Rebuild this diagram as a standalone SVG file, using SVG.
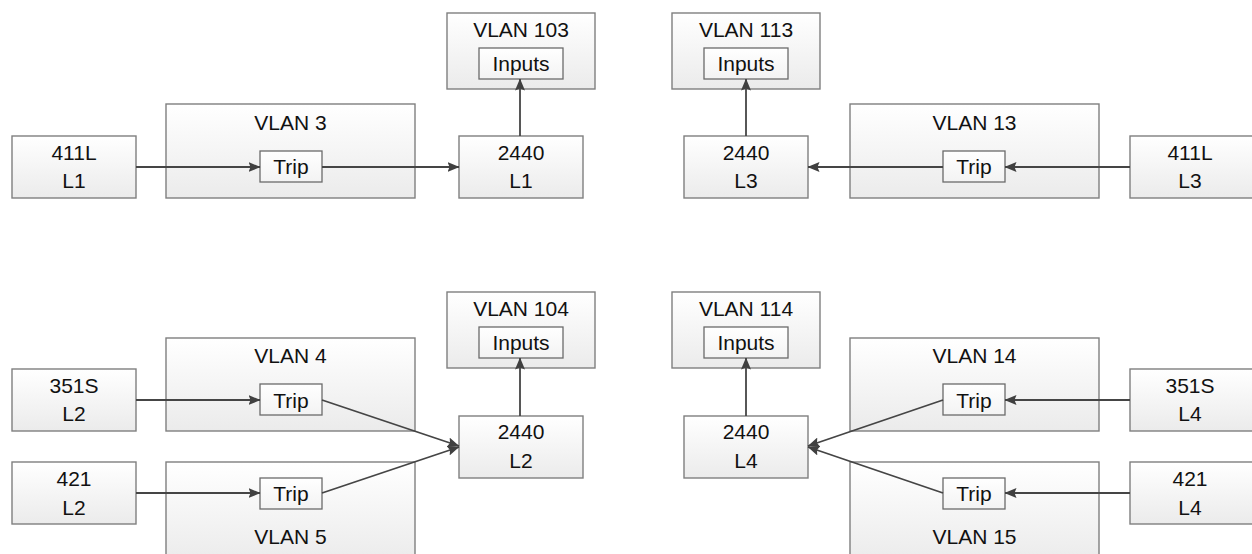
<svg xmlns="http://www.w3.org/2000/svg" width="1252" height="554" viewBox="0 0 1252 554">
<defs>
<linearGradient id="g" x1="0" y1="0" x2="0" y2="1">
<stop offset="0" stop-color="#ffffff"/>
<stop offset="1" stop-color="#ebebeb"/>
</linearGradient>
<linearGradient id="gi" x1="0" y1="0" x2="0" y2="1">
<stop offset="0" stop-color="#ffffff"/>
<stop offset="1" stop-color="#f3f3f3"/>
</linearGradient>
<marker id="ah" viewBox="0 0 12 10" refX="11.5" refY="5" markerWidth="12" markerHeight="10" markerUnits="userSpaceOnUse" orient="auto">
<path d="M0,0 L12,5 L0,10 L2,5 Z" fill="#404040"/>
</marker>
</defs>
<style>
.b{fill:url(#g);stroke:#7f7f7f;stroke-width:1.4}
.s{fill:url(#gi);stroke:#6a6a6a;stroke-width:1.3}
text{font-family:"Liberation Sans",Arial,sans-serif;font-size:21px;fill:#111111;text-anchor:middle}
.c{stroke:#454545;stroke-width:1.8;fill:none;marker-end:url(#ah)}
</style>
<rect width="1252" height="554" fill="#ffffff"/>

<!-- Top-left -->
<g id="n411L-L1"><rect class="b" x="12" y="136" width="124" height="62"/><text x="74" y="159.5">411L</text><text x="74" y="188">L1</text></g>
<g id="vlan3"><rect class="b" x="166" y="104" width="249" height="94"/><text x="290.5" y="129.5">VLAN 3</text></g>
<g id="trip3"><rect class="s" x="260" y="151" width="62" height="31"/><text x="291" y="174">Trip</text></g>
<g id="n2440-L1"><rect class="b" x="459" y="136" width="124" height="62"/><text x="521" y="159.5">2440</text><text x="521" y="188">L1</text></g>
<g id="vlan103"><rect class="b" x="447" y="13" width="148" height="76"/><text x="521" y="36.5">VLAN 103</text></g>
<g id="inputs103"><rect class="s" x="479" y="48" width="84" height="31"/><text x="521" y="70.5">Inputs</text></g>

<!-- Top-right -->
<g id="vlan113"><rect class="b" x="672" y="13" width="148" height="76"/><text x="746" y="36.5">VLAN 113</text></g>
<g id="inputs113"><rect class="s" x="704" y="48" width="84" height="31"/><text x="746" y="70.5">Inputs</text></g>
<g id="n2440-L3"><rect class="b" x="684" y="136" width="124" height="62"/><text x="746" y="159.5">2440</text><text x="746" y="188">L3</text></g>
<g id="vlan13"><rect class="b" x="850" y="104" width="249" height="94"/><text x="974.5" y="129.5">VLAN 13</text></g>
<g id="trip13"><rect class="s" x="943" y="151" width="62" height="31"/><text x="974" y="174">Trip</text></g>
<g id="n411L-L3"><rect class="b" x="1130" y="136" width="124" height="62"/><text x="1190" y="159.5">411L</text><text x="1190" y="188">L3</text></g>

<!-- Bottom-left -->
<g id="n351S-L2"><rect class="b" x="12" y="369" width="124" height="62"/><text x="74" y="393">351S</text><text x="74" y="421">L2</text></g>
<g id="vlan4"><rect class="b" x="166" y="338" width="249" height="93"/><text x="290.5" y="362.5">VLAN 4</text></g>
<g id="trip4"><rect class="s" x="260" y="384" width="62" height="31"/><text x="291" y="407.5">Trip</text></g>
<g id="n421-L2"><rect class="b" x="12" y="462" width="124" height="62"/><text x="74" y="486">421</text><text x="74" y="514.5">L2</text></g>
<g id="vlan5"><rect class="b" x="166" y="462" width="249" height="100"/><text x="290.5" y="543.5">VLAN 5</text></g>
<g id="trip5"><rect class="s" x="260" y="478" width="62" height="31"/><text x="291" y="501">Trip</text></g>
<g id="vlan104"><rect class="b" x="447" y="292" width="148" height="76"/><text x="521" y="315.5">VLAN 104</text></g>
<g id="inputs104"><rect class="s" x="479" y="327" width="84" height="31"/><text x="521" y="350">Inputs</text></g>
<g id="n2440-L2"><rect class="b" x="459" y="416" width="124" height="62"/><text x="521" y="439">2440</text><text x="521" y="467.5">L2</text></g>

<!-- Bottom-right -->
<g id="vlan114"><rect class="b" x="672" y="292" width="148" height="76"/><text x="746" y="315.5">VLAN 114</text></g>
<g id="inputs114"><rect class="s" x="704" y="327" width="84" height="31"/><text x="746" y="350">Inputs</text></g>
<g id="n2440-L4"><rect class="b" x="684" y="416" width="124" height="62"/><text x="746" y="439">2440</text><text x="746" y="467.5">L4</text></g>
<g id="vlan14"><rect class="b" x="850" y="338" width="249" height="93"/><text x="974.5" y="362.5">VLAN 14</text></g>
<g id="trip14"><rect class="s" x="943" y="384" width="62" height="31"/><text x="974" y="407.5">Trip</text></g>
<g id="vlan15"><rect class="b" x="850" y="462" width="249" height="100"/><text x="974.5" y="543.5">VLAN 15</text></g>
<g id="trip15"><rect class="s" x="943" y="478" width="62" height="31"/><text x="974" y="501">Trip</text></g>
<g id="n351S-L4"><rect class="b" x="1130" y="369" width="124" height="62"/><text x="1190" y="393">351S</text><text x="1190" y="421">L4</text></g>
<g id="n421-L4"><rect class="b" x="1130" y="462" width="124" height="62"/><text x="1190" y="486">421</text><text x="1190" y="514.5">L4</text></g>

<g id="connectors">
<line class="c" x1="136" y1="167" x2="260" y2="167"/>
<line class="c" x1="322" y1="167" x2="459" y2="167"/>
<line class="c" x1="520" y1="136" x2="520" y2="79"/>
<line class="c" x1="1130" y1="167" x2="1005" y2="167"/>
<line class="c" x1="943" y1="167" x2="808" y2="167"/>
<line class="c" x1="746" y1="136" x2="746" y2="79"/>
<line class="c" x1="136" y1="400" x2="260" y2="400"/>
<line class="c" x1="136" y1="493" x2="260" y2="493"/>
<line class="c" x1="322" y1="400" x2="459" y2="446"/>
<line class="c" x1="322" y1="493" x2="459" y2="447"/>
<line class="c" x1="520" y1="416" x2="520" y2="358"/>
<line class="c" x1="1130" y1="400" x2="1005" y2="400"/>
<line class="c" x1="1130" y1="493" x2="1005" y2="493"/>
<line class="c" x1="943" y1="400" x2="808" y2="446"/>
<line class="c" x1="943" y1="493" x2="808" y2="447"/>
<line class="c" x1="746" y1="416" x2="746" y2="358"/>
</g>
</svg>
